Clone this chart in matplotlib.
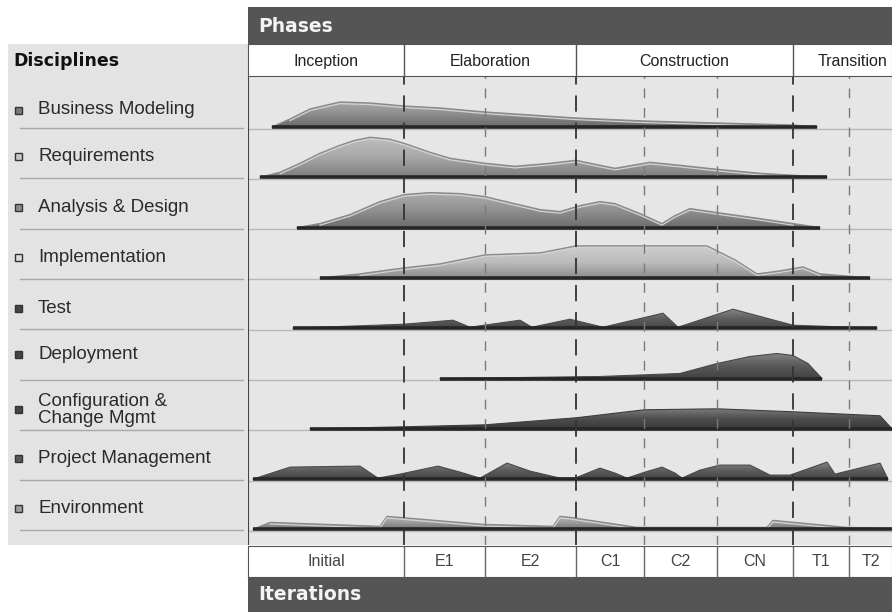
import matplotlib.pyplot as plt
import numpy as np
from matplotlib.colors import LinearSegmentedColormap, to_rgb
from matplotlib.patches import Rectangle

plt.rcParams['font.family'] = ['Liberation Sans', 'DejaVu Sans']

# --- data -------------------------------------------------------------
phases = ['Inception', 'Elaboration', 'Construction', 'Transition']
phase_edges = [0, 156, 328, 545, 644]
iterations = ['Initial', 'E1', 'E2', 'C1', 'C2', 'CN', 'T1', 'T2']
iter_edges = [0, 156, 237, 328, 396, 469, 545, 601, 644]

disciplines = ['Business Modeling', 'Requirements', 'Analysis & Design',
               'Implementation', 'Test', 'Deployment',
               'Configuration &\nChange Mgmt', 'Project Management',
               'Environment']

# effort curves: position on the project timeline, effort height
bm_t = [24, 42, 62, 92, 122, 156, 192, 237, 328, 396, 469, 545, 569]
bm_h = [0, 8, 18, 25, 24, 21, 19, 15, 9, 6, 4, 2, 0]

req_t = [12, 32, 52, 72, 92, 107, 122, 142, 156, 182, 202, 237, 267, 302,
         328, 352, 367, 402, 432, 469, 512, 545, 579]
req_h = [0, 5, 14, 24, 32, 37, 40, 38, 34, 25, 19, 14, 11, 14,
         17, 12, 9, 15, 12, 8, 4, 2, 0]

ad_t = [49, 72, 102, 132, 156, 182, 212, 237, 262, 292, 312, 332, 352, 367,
        392, 414, 427, 442, 469, 512, 545, 572]
ad_h = [0, 4, 13, 26, 33, 35, 34, 31, 25, 18, 16, 22, 26, 24,
        14, 4, 12, 19, 15, 9, 4, 0]

impl_t = [72, 112, 156, 192, 237, 292, 328, 459, 487, 509, 532, 555, 572, 622]
impl_h = [0, 4, 10, 14, 23, 25, 32, 32, 18, 4, 7, 11, 4, 0]

test_t = [45, 156, 205, 222, 272, 284, 322, 355, 415, 430, 485, 545, 629]
test_h = [0, 4, 8, 1, 8, 1, 9, 1, 15, 1, 19, 3, 0]

dep_t = [192, 352, 432, 469, 502, 529, 545, 560, 574]
dep_h = [0, 2, 5, 15, 22, 25, 23, 15, 0]

cfg_t = [62, 156, 237, 328, 396, 469, 545, 632, 644]
cfg_h = [0, 2, 4, 11, 19, 20, 17, 13, 0]

pm_t = [5, 42, 112, 130, 152, 190, 212, 232, 259, 282, 312, 327, 352, 367,
        379, 397, 414, 427, 434, 452, 472, 502, 522, 542, 579, 587, 632, 640]
pm_h = [0, 12, 13, 1, 5, 13, 7, 1, 16, 8, 1, 1, 11, 6,
        1, 7, 12, 6, 1, 9, 14, 14, 4, 4, 17, 5, 16, 0]

env_t = [5, 22, 132, 139, 235, 305, 312, 322, 389, 519, 525, 599, 644]
env_h = [0, 7, 3, 13, 5, 3, 13, 12, 2, 2, 9, 2, 1]

curves_t = [bm_t, req_t, ad_t, impl_t, test_t, dep_t, cfg_t, pm_t, env_t]
curves_h = [bm_h, req_h, ad_h, impl_h, test_h, dep_h, cfg_h, pm_h, env_h]

hump_colors = ['#8c8c8c', '#a8a8a8', '#909090', '#bcbcbc', '#5e5e5e',
               '#5a5a5a', '#4c4c4c', '#5c5c5c', '#9c9c9c']
bullet_colors = ['#7a7a7a', '#c8c8c8', '#8a8a8a', '#dcdcdc', '#444444',
                 '#444444', '#444444', '#5a5a5a', '#a0a0a0']
label_shift = [4, 0, 1, 1, 1, -3, 2, 0, 0]


def shade(c, f):
    r = np.array(to_rgb(c))
    return tuple(np.clip(r * f, 0, 1)) if f < 1 else tuple(r + (1 - r) * (f - 1))


fig = plt.figure(figsize=(8.92, 6.12), dpi=100)
W, H = 892, 612

# background / layout axes in pixel units
bg = fig.add_axes([0, 0, 1, 1])
bg.set_xlim(0, W)
bg.set_ylim(H, 0)
bg.axis('off')
bg.add_patch(Rectangle((8, 44), 240, 501, color='#e3e3e3', lw=0))
bg.add_patch(Rectangle((248, 7), 644, 37, color='#555555', lw=0))
bg.add_patch(Rectangle((248, 577), 644, 35, color='#555555', lw=0))
bg.text(258, 26, 'Phases', color='#f4f4f4', fontsize=13.5, fontweight='bold',
        family='DejaVu Sans', va='center', ha='left')
bg.text(258, 595, 'Iterations', color='#f4f4f4', fontsize=13.5, fontweight='bold',
        family='DejaVu Sans', va='center', ha='left')
bg.text(13, 61, 'Disciplines', color='#111111', fontsize=12.5, fontweight='bold',
        family='DejaVu Sans', va='center', ha='left')

row_h = 50.3
for i, name in enumerate(disciplines):
    sep = 128 + row_h * i
    bg.plot([20, 243], [sep, sep], color='#a8a8a8', lw=1)
    yc = sep - 22 + label_shift[i]
    bg.add_patch(Rectangle((15, yc - 3.5), 7, 7, facecolor=bullet_colors[i],
                           edgecolor='#333333', lw=1))
    bg.text(38, yc, name, fontsize=13.5, color='#2a2a2a', va='center', ha='left',
            linespacing=1.0)

# chart area
ax = fig.add_axes([248 / W, (H - 545) / H, 644 / W, 469 / H])
ax.set_facecolor('#e6e6e6')
ax.set_xlim(0, 644)
ax.set_ylim(469, 0)
ax.set_xticks([])
ax.set_yticks([])
for s in ax.spines.values():
    s.set_visible(False)
ax.axvline(0, color='#444444', lw=1.5, zorder=10)

for i in range(len(disciplines)):
    base = 51 + row_h * i
    ax.axhline(base + 1.5, color='#b8b8b8', lw=1, zorder=1)
    t = np.array(curves_t[i], float)
    h = np.array(curves_h[i], float)
    c = hump_colors[i]
    poly = ax.fill_between(t, base, base - h, facecolor='none', lw=0, zorder=2)
    cmap = LinearSegmentedColormap.from_list('g', [shade(c, 1.25), c, shade(c, 0.75)])
    grad = np.linspace(0, 1, 64).reshape(-1, 1)
    im = ax.imshow(grad, cmap=cmap, aspect='auto', origin='upper',
                   extent=(t[0], t[-1], base, base - h.max()), zorder=2,
                   interpolation='bilinear')
    im.set_clip_path(poly.get_paths()[0], transform=ax.transData)
    if i < 4 or i == 8:
        ax.plot(t, base - h, color='#8a8a8a', lw=1.0, zorder=3)
        ax.plot(t[1:-1], base - np.maximum(h[1:-1] - 1.6, 0), color='#d2d2d2',
                lw=0.9, zorder=3)
    else:
        ax.plot(t, base - h, color=shade(c, 0.8), lw=0.8, zorder=3)
    ax.plot([t[0], t[-1]], [base, base], color='#262626', lw=2.6,
            solid_capstyle='butt', zorder=4)

ax.set_xlim(0, 644)
ax.set_ylim(469, 0)

for e in phase_edges[1:-1]:
    ax.axvline(e, color='#333333', lw=1.3, dashes=(9, 6), zorder=6)
for e in iter_edges[1:-1]:
    if e not in phase_edges:
        ax.axvline(e, color='#7a7a7a', lw=1.0, dashes=(7, 7), zorder=6)

# phase header row
ph = fig.add_axes([248 / W, (H - 76) / H, 644 / W, 32 / H])
ph.set_xlim(0, 644)
ph.set_ylim(0, 1)
ph.set_xticks([])
ph.set_yticks([])
ph.set_facecolor('white')
for s in ph.spines.values():
    s.set_color('#555555')
for e in phase_edges[1:-1]:
    ph.axvline(e, color='#555555', lw=1)
for k, name in enumerate(phases):
    mid = (phase_edges[k] + phase_edges[k + 1]) / 2
    if k == 3:
        mid += 10
    ph.text(mid, 0.45, name, ha='center', va='center', fontsize=11.5, color='#222222')

# iteration row
it = fig.add_axes([248 / W, (H - 577) / H, 644 / W, 31 / H])
it.set_xlim(0, 644)
it.set_ylim(0, 1)
it.set_xticks([])
it.set_yticks([])
it.set_facecolor('white')
for s in it.spines.values():
    s.set_color('#555555')
for e in iter_edges[1:-1]:
    it.axvline(e, color='#666666', lw=1)
for k, name in enumerate(iterations):
    mid = (iter_edges[k] + iter_edges[k + 1]) / 2
    it.text(mid, 0.5, name, ha='center', va='center', fontsize=11.5, color='#444444')

fig.savefig('out.png', dpi=100)
